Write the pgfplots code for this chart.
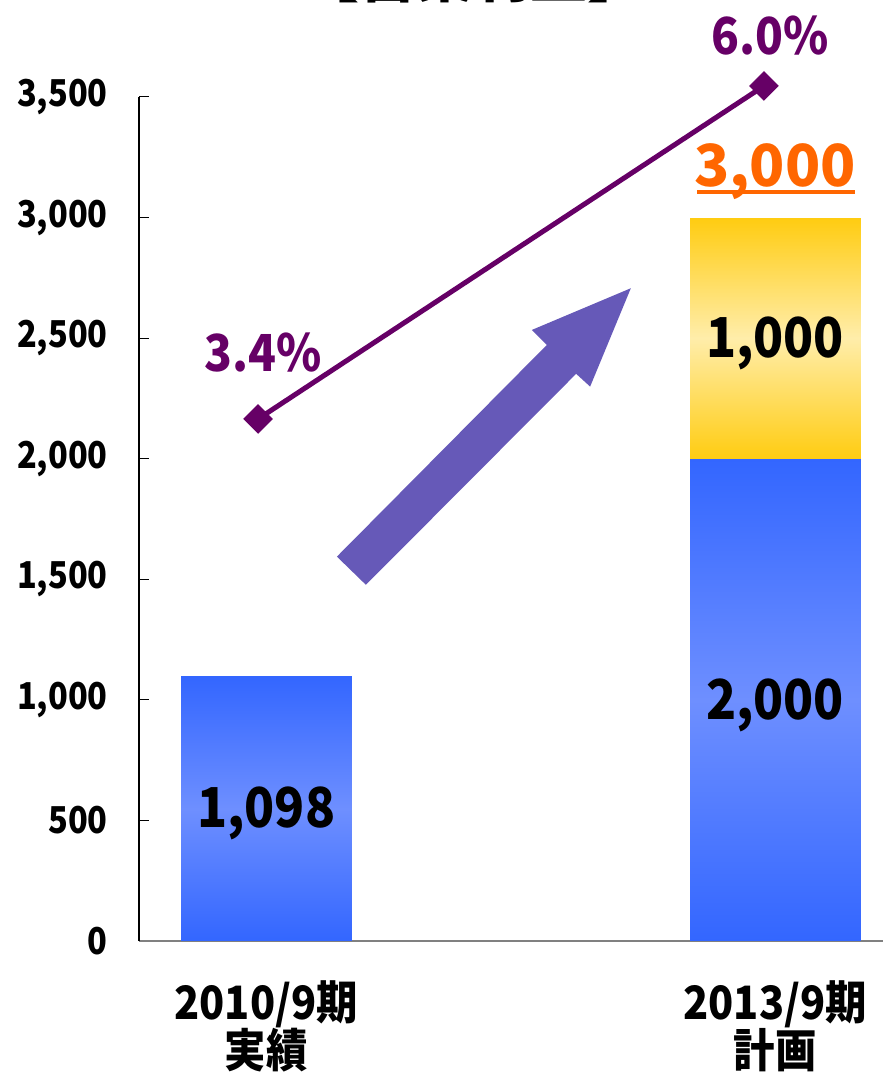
\documentclass[border=0pt]{standalone}
\usepackage{pgfplots}
\pgfplotsset{compat=1.18}
\usepackage{fontspec}
\setmainfont{Noto Sans CJK JP}
\newfontfamily\cond{Noto Sans CJK JP}[FakeStretch=0.9]
\newfontfamily\tickf{Noto Sans CJK JP}[FakeStretch=0.88]
\definecolor{ratec}{HTML}{660066}
\definecolor{arrowc}{HTML}{6659B8}
\definecolor{totc}{HTML}{FF6600}
\pgfplotsset{
  colormap={yels}{rgb255=(255,204,17) rgb255=(255,237,170)},
  colormap={blues}{rgb255=(51,102,255) rgb255=(110,143,255)},
}
\begin{document}
\begin{tikzpicture}[x=1pt,y=1pt]
\useasboundingbox (0,0) rectangle (883,1073);
% title, mostly cut off at the top edge
\node[font=\fontsize{57}{60}\selectfont\bfseries, anchor=base, inner sep=0pt] at (473,1075) {【営業利益】};

\begin{axis}[
  at={(139pt,132pt)}, anchor=south west,
  scale only axis, width=744pt, height=844pt,
  xmin=-0.25, xmax=1.212, ymin=0, ymax=3500,
  clip=false,
  axis lines*=left,
  x axis line style={draw=gray, line width=1.5pt},
  y axis line style={draw=black, line width=1.2pt},
  ytick={0,500,...,3500},
  scaled y ticks=false,
  tick align=inside, major tick length=10pt,
  ytick style={black, line width=1pt},
  xtick={0,1}, xtick style={draw=none},
  xticklabels={{2010/9期\\実績},{2013/9期\\計画}},
  xticklabel style={font=\cond\fontsize{46}{45}\selectfont\bfseries, align=center, inner sep=0pt, yshift=-39pt},
  yticklabel style={font=\tickf\fontsize{37}{40}\selectfont\bfseries, inner sep=0pt, xshift=-31pt,
    /pgf/number format/1000 sep={,}},
  /pgf/number format/assume math mode=true,
  point meta min=0, point meta max=1,
]
% bars: shaded patches, half width 0.168; meta 0 = edge colour, 1 = light middle
\addplot[surf, shader=interp, colormap name=blues, mesh/cols=2, point meta=explicit]
  table[meta=m] {
x y m
-0.168 0 0
0.168 0 0

-0.168 549 1
0.168 549 1

-0.168 1098 0
0.168 1098 0
};
\addplot[surf, shader=interp, colormap name=blues, mesh/cols=2, point meta=explicit]
  table[meta=m] {
x y m
0.832 0 0
1.168 0 0

0.832 1000 1
1.168 1000 1

0.832 2000 0
1.168 2000 0
};
\addplot[surf, shader=interp, colormap name=yels, mesh/cols=2, point meta=explicit]
  table[meta=m] {
x y m
0.832 2000 0
1.168 2000 0

0.832 2500 1
1.168 2500 1

0.832 3000 0
1.168 3000 0
};

\fill[arrowc] (axis cs:0.1389,1594) -- (axis cs:0.5515,2472) -- (axis cs:0.522,2534)
  -- (axis cs:0.7165,2707) -- (axis cs:0.6365,2299) -- (axis cs:0.609,2352)
  -- (axis cs:0.1959,1477) -- cycle;

\node[font=\cond\fontsize{55}{60}\selectfont\bfseries, anchor=base] at (axis cs:0,469) {1,098};
\node[font=\cond\fontsize{55}{60}\selectfont\bfseries, anchor=base] at (axis cs:1,917) {2,000};
\node[font=\cond\fontsize{55}{60}\selectfont\bfseries, anchor=base] at (axis cs:1,2418) {1,000};
\node[font=\fontsize{58}{60}\selectfont\bfseries, text=totc, anchor=base] at (axis cs:1,3127) {3,000};
\draw[totc, line width=4pt] (axis cs:0.847,3107) -- (axis cs:1.157,3107);
\node[font=\cond\fontsize{51}{60}\selectfont\bfseries, text=ratec, anchor=base] at (axis cs:-0.006,2360) {3.4\%};
\node[font=\cond\fontsize{51}{60}\selectfont\bfseries, text=ratec, anchor=base] at (axis cs:0.990,3675) {6.0\%};
\end{axis}

\begin{axis}[
  at={(139pt,132pt)}, anchor=south west,
  scale only axis, width=744pt, height=844pt,
  xmin=-0.25, xmax=1.212, ymin=-0.676, ymax=5.914,
  hide axis, clip=false,
]
\addplot[ratec, line width=5pt, mark=square*, mark size=10pt,
  mark options={rotate=45, line width=1pt}]
  coordinates {(-0.016,3.4) (0.978,6.0)};
\end{axis}
\end{tikzpicture}
\end{document}
